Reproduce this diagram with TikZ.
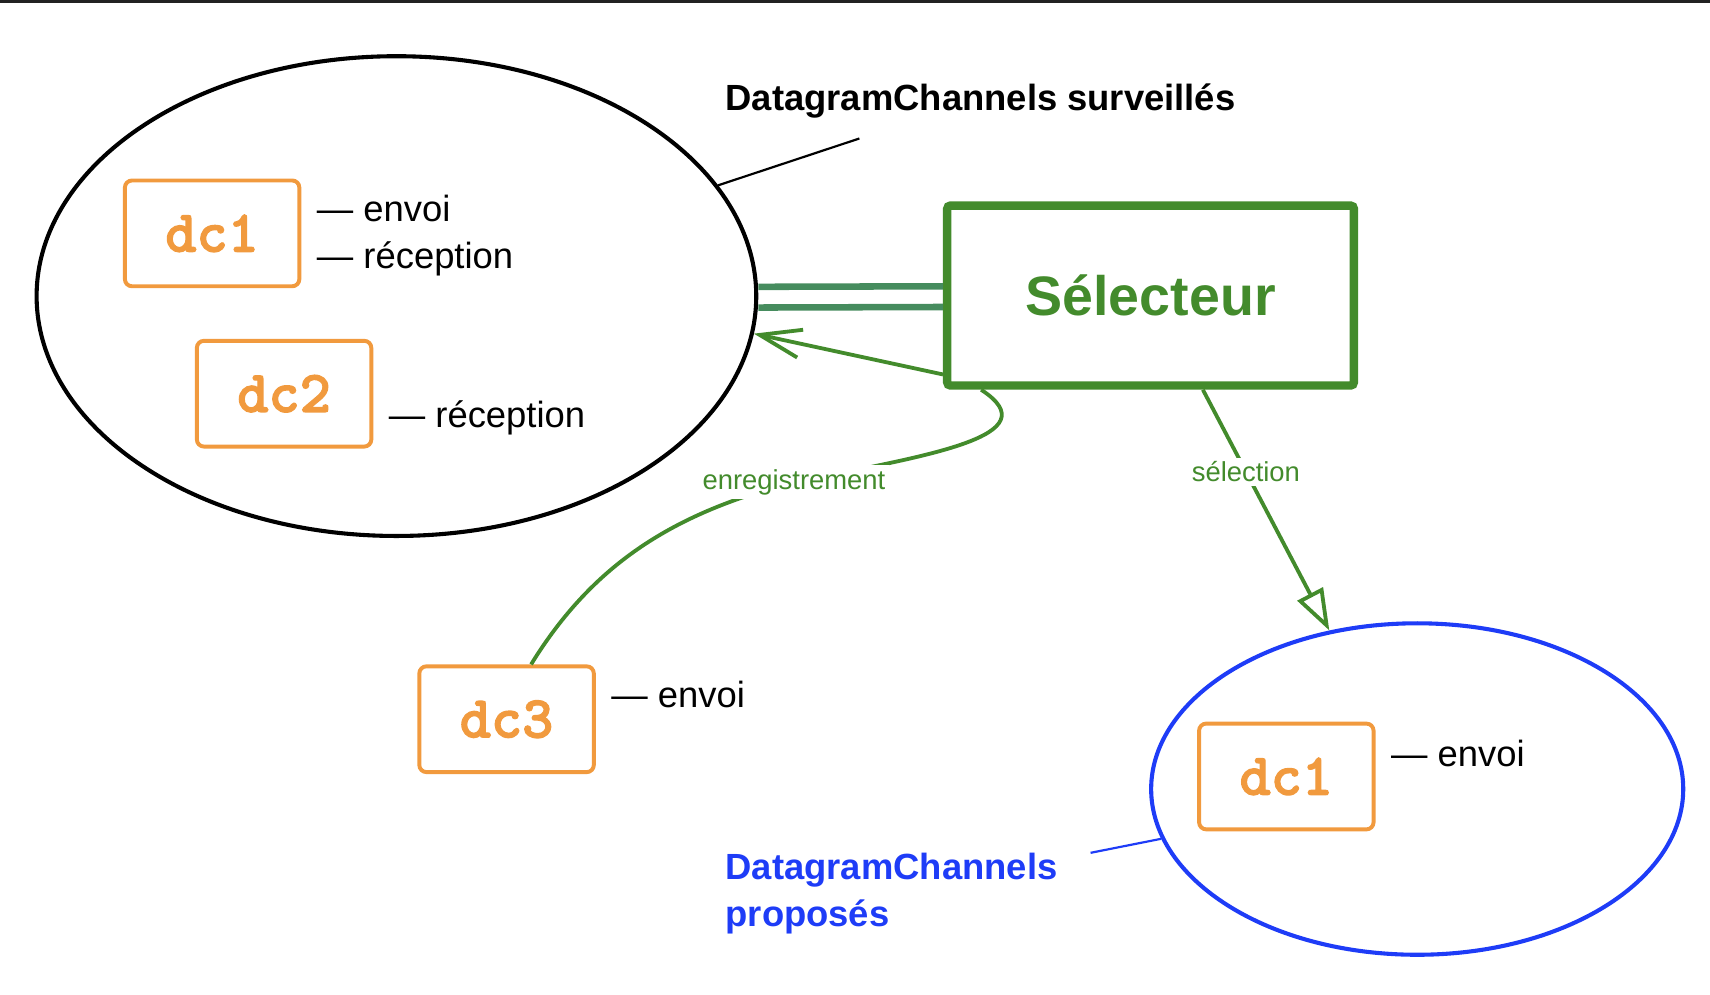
\documentclass[tikz,border=0pt]{standalone}
\usepackage{fontspec}
\setmainfont{Liberation Sans}
\newfontfamily\dcfont{lmmonolt10-bold.otf}[FakeBold=2]
\usetikzlibrary{positioning,shapes.geometric,arrows.meta}
\definecolor{dcorange}{RGB}{241,154,62}
\definecolor{selgreen}{RGB}{67,139,44}
\definecolor{linkgreen}{RGB}{70,140,94}
\definecolor{propblue}{RGB}{30,60,247}
\definecolor{topbar}{RGB}{34,34,34}

\begin{document}
\begin{tikzpicture}[x=0.02cm, y=-0.02cm,
  dcbox/.style = {draw=dcorange, line width=0.072cm, rounded corners=0.13cm, minimum width=3.2cm, minimum height=1.94cm, text=dcorange, font=\fontsize{31}{31}\selectfont\dcfont},
  lbl/.style = {inner sep=0pt, text height=13.6pt, text depth=0pt, font=\fontsize{19}{19}\selectfont},
  chans/.style = {draw, ellipse, line width=0.075cm, inner sep=0pt},
  flow/.style = {draw=selgreen, line width=0.07cm},
  tag/.style = {fill=white, text=selgreen, inner sep=2pt, font=\fontsize{14.3}{14.3}\selectfont}]
\useasboundingbox (0,0) rectangle (1568,912);
\fill[topbar] (0,0) rectangle (1568,2.5);
% the two sets of channels
\node[chans, minimum width=13.2cm, minimum height=8.8cm] (watched) at (363.5,271.5) {};
\node[chans, draw=propblue, minimum width=9.76cm, minimum height=6.08cm] (proposed) at (1299.5,723.5) {};
\node[dcbox] (dc1) at (194.5,214) {dc1};
\node[dcbox] (dc2) at (260.5,361) {dc2};
\node[dcbox] (dc3) at (464.5,659.5) {dc3};
\node[dcbox] (dc1p) at (1179.5,712) {dc1};
\node[draw=selgreen, line width=0.155cm, rounded corners=0.06cm, minimum width=7.46cm, minimum height=3.3cm, text=selgreen, font=\fontsize{29}{29}\selectfont\bfseries] (sel) at (1055,271) {Sélecteur};
% operations
\node[lbl, right=0.28cm of dc1, yshift=0.45cm] (dc1s) {— envoi};
\node[lbl, right=0.28cm of dc1, yshift=-0.40cm] (dc1r) {— réception};
\node[lbl, right=0.28cm of dc2, yshift=-0.39cm] (dc2r) {— réception};
\node[lbl, right=0.28cm of dc3, yshift=0.45cm] (dc3s) {— envoi};
\node[lbl, right=0.28cm of dc1p, yshift=0.42cm] (dc1ps) {— envoi};
% titles
\node[inner sep=0pt, anchor=base west, font=\fontsize{19}{19}\selectfont\bfseries] (wtitle) at (665,101) {DatagramChannels surveillés};
\node[inner sep=0pt, anchor=north west, align=left, text=propblue, font=\fontsize{19}{24.4}\selectfont\bfseries] (ptitle) at (665,782) {DatagramChannels\\proposés};
\coordinate (wtip) at (788,127);
\coordinate (ptip) at (1000,782);
\draw[line width=0.04cm] (watched.19) -- (wtip);
\draw[propblue, line width=0.04cm] (proposed.191) -- (ptip);
% links
\draw[linkgreen, line width=0.12cm] ([yshift=0.17cm]watched.east) -- ([yshift=0.17cm]sel.west);
\draw[linkgreen, line width=0.12cm] ([yshift=-0.21cm]watched.east) -- ([yshift=-0.21cm]sel.west);
\draw[flow, -{Straight Barb[length=0.76cm, width=0.52cm]}] ([yshift=0.28cm]sel.south west) -- (watched.-6);
\draw[flow] ([xshift=0.45cm]dc3.north) .. controls (545,515) and (620,470) .. node[tag, pos=1] (reg) {enregistrement} (728,442) .. controls (850,418) and (965,400) .. ([xshift=0.7cm]sel.south west);
\draw[flow, -{Triangle[open, length=0.76cm, width=0.52cm]}] ([xshift=0.96cm]sel.south) -- node[tag, pos=0.34] (pick) {sélection} (proposed.119);
\end{tikzpicture}
\end{document}
